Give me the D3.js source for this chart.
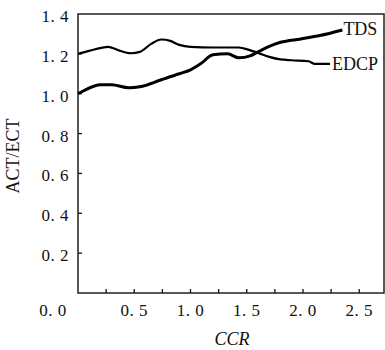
<!DOCTYPE html>
<meta charset="utf-8">
<html>
<style>
body { margin: 0; background: #fff; }
svg { display: block; background: #fff; }
.lbl { font-family: "Liberation Serif", serif; fill: #111; }
.tick { font-family: "Liberation Serif", serif; font-size: 17px; fill: #111; letter-spacing: 0.5px; }
</style>
<body>
<script src="https://cdnjs.cloudflare.com/ajax/libs/d3/7.8.5/d3.min.js"></script>
<script>
	// CCR vs ACT/ECT
	var edcpX = [0, 0.1, 0.27, 0.35, 0.47, 0.55, 0.65, 0.74, 0.82, 0.9, 1.0, 1.2, 1.43, 1.52, 1.6, 1.7, 1.8, 1.9, 2.05, 2.1, 2.24];
	var edcpY = [1.2, 1.215, 1.235, 1.22, 1.203, 1.21, 1.25, 1.272, 1.265, 1.245, 1.235, 1.232, 1.232, 1.22, 1.205, 1.185, 1.172, 1.168, 1.163, 1.15, 1.15];

	var tdsX = [0, 0.05, 0.2, 0.3, 0.45, 0.55, 0.74, 0.9, 1.0, 1.09, 1.2, 1.33, 1.43, 1.53, 1.6, 1.71, 1.8, 1.98, 2.15, 2.35];
	var tdsY = [1.0, 1.015, 1.045, 1.045, 1.03, 1.035, 1.07, 1.1, 1.12, 1.15, 1.195, 1.2, 1.18, 1.19, 1.21, 1.24, 1.258, 1.275, 1.292, 1.32];

	var xTickVals = [0.5, 1.0, 1.5, 2.0, 2.5];
	var xMinorVals = [0.25, 0.5, 0.75, 1.0, 1.25, 1.5, 1.75, 2.0, 2.25, 2.5];
	var yTickVals = [0.2, 0.4, 0.6, 0.8, 1.0, 1.2, 1.4];

	var width = 385, height = 350;

	var svg = d3.select("body").append("svg")
		.attr("width", width)
		.attr("height", height);

	var x = d3.scaleLinear().domain([0, 2.72]).range([78, 384]);
	var y = d3.scaleLinear().domain([0, 1.4]).range([293, 14]);

	function fmt(v) { return d3.format(".1f")(v).replace(".", ". "); }

	// frame
	svg.append("rect")
		.attr("x", x(0)).attr("y", y(1.4))
		.attr("width", x(2.72) - x(0)).attr("height", y(0) - y(1.4))
		.attr("fill", "none").attr("stroke", "#222").attr("stroke-width", 1.5);

	// ticks pointing inward
	svg.append("g").selectAll("line").data(xMinorVals).enter().append("line")
		.attr("x1", d => x(d)).attr("x2", d => x(d))
		.attr("y1", y(0)).attr("y2", y(0) - 4)
		.attr("stroke", "#111").attr("stroke-width", 1.3);

	svg.append("g").selectAll("line").data(yTickVals.filter(d => d < 1.4)).enter().append("line")
		.attr("x1", x(0)).attr("x2", x(0) + 4)
		.attr("y1", d => y(d)).attr("y2", d => y(d))
		.attr("stroke", "#111").attr("stroke-width", 1.3);

	// tick labels
	svg.append("g").selectAll("text").data(yTickVals).enter().append("text")
		.attr("class", "tick")
		.attr("x", 69).attr("y", d => y(d) + 2)
		.attr("dy", "0.35em")
		.attr("text-anchor", "end")
		.text(d => fmt(d));

	svg.append("text").attr("class", "tick")
		.attr("x", 53).attr("y", 310).attr("dy", "0.35em")
		.attr("text-anchor", "middle").text(fmt(0));

	svg.append("g").selectAll("text").data(xTickVals).enter().append("text")
		.attr("class", "tick")
		.attr("x", d => x(d)).attr("y", 310)
		.attr("dy", "0.35em")
		.attr("text-anchor", "middle")
		.text(d => fmt(d));

	// axis titles
	svg.append("text").attr("class", "lbl")
		.attr("transform", "translate(19,156) rotate(-90)")
		.attr("text-anchor", "middle")
		.style("font-size", "18px")
		.text("ACT/ECT");

	svg.append("text").attr("class", "lbl")
		.attr("x", 232).attr("y", 345)
		.attr("text-anchor", "middle")
		.style("font-size", "18px").style("font-style", "italic")
		.text("CCR");

	// curves
	var line = d3.line()
		.x(d => x(d[0])).y(d => y(d[1]))
		.curve(d3.curveMonotoneX);

	var edcp = d3.zip(edcpX, edcpY);
	var tds = d3.zip(tdsX, tdsY);

	svg.append("path").datum(edcp)
		.attr("d", line).attr("fill", "none")
		.attr("stroke", "#000").attr("stroke-width", 2.2);

	svg.append("path").datum(tds)
		.attr("d", line).attr("fill", "none")
		.attr("stroke", "#000").attr("stroke-width", 3);

	// end labels
	svg.append("text").attr("class", "lbl")
		.attr("x", x(tdsX[tdsX.length - 1]) + 1).attr("y", y(tdsY[tdsY.length - 1]) + 5)
		.style("font-size", "18px").text("TDS");

	svg.append("text").attr("class", "lbl")
		.attr("x", x(edcpX[edcpX.length - 1]) + 2).attr("y", y(edcpY[edcpY.length - 1]) + 6)
		.style("font-size", "18px").text("EDCP");
</script>
</body>
</html>
